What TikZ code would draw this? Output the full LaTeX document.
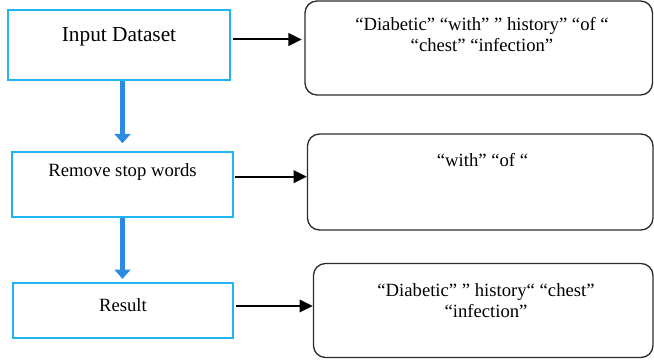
\documentclass[tikz,border=0pt]{standalone}
\usepackage{fontspec}
\setmainfont{Liberation Serif}
\usetikzlibrary{arrows.meta,fit}

\definecolor{stepline}{HTML}{1FB4F2}
\definecolor{flowblue}{HTML}{2C8BE0}
\definecolor{wordline}{HTML}{2B2B2B}

\begin{document}
\begin{tikzpicture}[x=0.75pt,y=-0.75pt,
  stagebox/.style={draw=stepline, line width=1.2pt, inner sep=0pt},
  wordbox/.style={draw=wordline, line width=1pt, rounded corners=9pt, inner sep=0pt},
  steptext/.style={font=\fontsize{14}{16}\selectfont, anchor=base, inner sep=0pt},
  wordtext/.style={font=\fontsize{14}{15.75}\selectfont, anchor=base, align=center, inner sep=0pt},
  flowarrow/.style={draw=flowblue, line width=3.75pt,
    -{Triangle[length=7pt,width=12pt]}},
  outarrow/.style={draw=black, line width=1.5pt,
    -{Triangle[length=10pt,width=9.5pt]}}]

\path[use as bounding box, clip] (0,0) rectangle (654,360);

% processing stages
\node[stagebox, fit={(8,10) (230,80)}] (input) {};
\node[stagebox, fit={(12,152) (233,217)}] (remove) {};
\node[stagebox, fit={(13,283) (233,338)}] (result) {};

\node[steptext, font=\fontsize{16}{19}\selectfont] (inputtxt) at (119,41.5) {Input Dataset};
\node[steptext] (removetxt) at (122.5,176.7) {Remove stop words};
\node[steptext] (resulttxt) at (123,311.5) {Result};

% word lists (base anchor sits on the last line)
\node[wordbox, fit={(305,1) (652.5,95)}] (tokens) {};
\node[wordbox, fit={(307.5,134) (653,230)}] (stops) {};
\node[wordbox, fit={(313.5,263.5) (653,357.5)}] (kept) {};

\node[wordtext] (tokenstxt) at (482,51.7) {“Diabetic” “with” ” history” “of “\\“chest” “infection”};
\node[wordtext] (stopstxt) at (482.5,166.7) {“with” “of “};
\node[wordtext] (kepttxt) at (486,317) {“Diabetic” ” history“ “chest”\\“infection”};

% flow between stages
\coordinate (flowx) at (122.5,0);
\draw[flowarrow, shorten >=6pt] (input.south -| flowx) -- (remove.north -| flowx);
\draw[flowarrow, shorten >=2.5pt] (remove.south -| flowx) -- (result.north -| flowx);

% outputs of each stage
\coordinate (row1) at (0,39.5);
\coordinate (row2) at (0,176.7);
\coordinate (row3) at (0,306);
\draw[outarrow, shorten >=2pt, shorten <=1.5pt] (input.east |- row1) -- (tokens.west |- row1);
\draw[outarrow, shorten <=1pt] (remove.east |- row2) -- (stops.west |- row2);
\draw[outarrow, shorten <=2pt] (result.east |- row3) -- (kept.west |- row3);
\end{tikzpicture}
\end{document}
